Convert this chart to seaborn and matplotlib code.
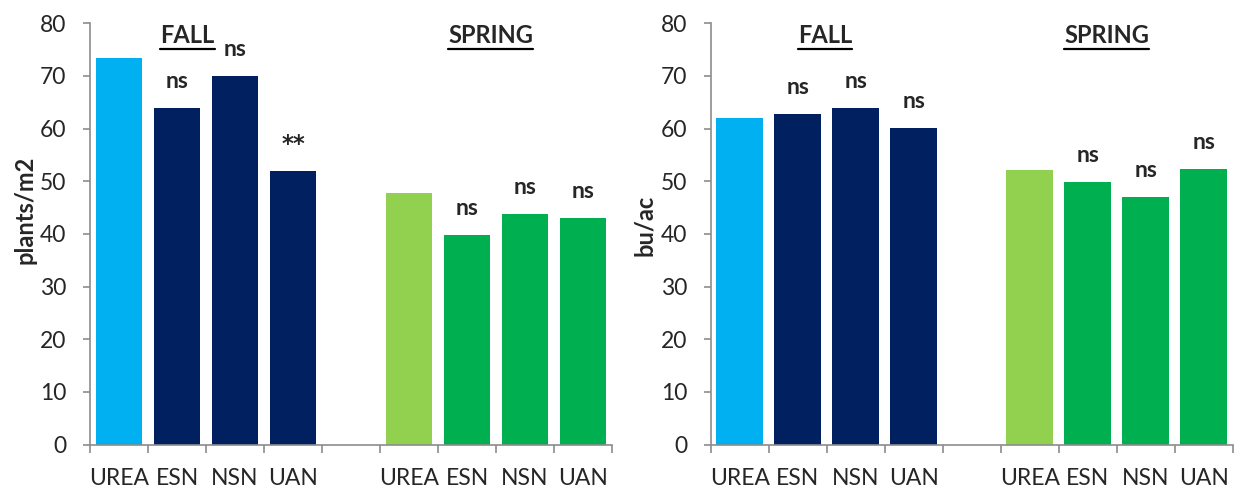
import matplotlib
matplotlib.use("Agg")
import matplotlib.pyplot as plt
from matplotlib.lines import Line2D
from matplotlib.ticker import FixedLocator
import seaborn as sns
import pandas as pd

# Treatments per timing
products = ["UREA", "ESN", "NSN", "UAN"]

# Plant stand (plants/m2)
stand_fall = [73.4, 64.0, 70.0, 52.0]
stand_spring = [47.8, 39.8, 43.8, 43.0]
stand_sig_fall = ["", "ns", "ns", "**"]
stand_sig_spring = ["", "ns", "ns", "ns"]

# Grain yield (bu/ac)
yield_fall = [62.0, 62.8, 63.9, 60.2]
yield_spring = [52.1, 49.9, 47.0, 52.3]
yield_sig_fall = ["", "ns", "ns", "ns"]
yield_sig_spring = ["", "ns", "ns", "ns"]

group_titles = ["FALL", "SPRING"]
y_labels = ["plants/m2", "bu/ac"]
y_ticks = [0, 10, 20, 30, 40, 50, 60, 70, 80]

colors_fall = ["#00B0F0", "#002060", "#002060", "#002060"]
colors_spring = ["#92D050", "#00B050", "#00B050", "#00B050"]

sns.set_theme(style="white")
plt.rcParams["font.family"] = ["Lato", "DejaVu Sans"]
plt.rcParams["font.size"] = 16

fall_keys = [f"F_{p}" for p in products]
spring_keys = [f"S_{p}" for p in products]
order = fall_keys + ["gap"] + spring_keys
tick_text = products + [""] + products
palette = dict(zip(fall_keys + spring_keys, colors_fall + colors_spring))

W, H = 1238, 491
fig = plt.figure(figsize=(W / 100, H / 100), dpi=100)
axw, axh = 522 / W, 421.3 / H
axb = (H - 444.6) / H
ax_left = fig.add_axes([90 / W, axb, axw, axh])
ax_right = fig.add_axes([710.7 / W, axb, axw, axh])

panels = [
    (ax_left, stand_fall, stand_spring, stand_sig_fall, stand_sig_spring,
     y_labels[0], (1.18, 6.41), (25, 210)),
    (ax_right, yield_fall, yield_spring, yield_sig_fall, yield_sig_spring,
     y_labels[1], (1.47, 6.33), (644, 225)),
]

spine_color = "#8C8C8C"
headers = []
for ax, fall, spring, sig_f, sig_s, ylab, title_x, ylab_xy in panels:
    df = pd.DataFrame({"slot": fall_keys + spring_keys, "value": fall + spring})
    sns.barplot(data=df, x="slot", y="value", hue="slot", order=order,
                hue_order=fall_keys + spring_keys, palette=palette,
                width=0.81, saturation=1, linewidth=0, legend=False, ax=ax)

    ax.set_xlim(-0.5, len(order) - 0.5)
    ax.set_ylim(0, 80)
    ax.set_yticks(y_ticks)
    ax.set_xticks(range(len(order)))
    ax.set_xticklabels(tick_text)
    ax.xaxis.set_minor_locator(FixedLocator([i - 0.5 for i in range(len(order) + 1)]))
    ax.set_xlabel("")
    ax.set_ylabel("")

    for s in ["top", "right"]:
        ax.spines[s].set_visible(False)
    for s in ["left", "bottom"]:
        ax.spines[s].set_color(spine_color)
        ax.spines[s].set_linewidth(1.2)

    ax.tick_params(axis="y", which="major", direction="out", length=5, width=1.2,
                   color=spine_color, pad=12, labelsize=16.5, left=True)
    ax.tick_params(axis="x", which="major", length=0, pad=17, labelsize=16.5)
    ax.tick_params(axis="x", which="minor", direction="out", length=6, width=1.2,
                   color=spine_color, bottom=True)

    # significance marks above bars
    positions = list(range(4)) + list(range(5, 9))
    for xi, v, s in zip(positions, fall + spring, sig_f + sig_s):
        if s:
            fam = ["DejaVu Sans"] if s == "**" else ["Lato", "DejaVu Sans"]
            ax.annotate(s, xy=(xi, v), xytext=(0, 14.4), textcoords="offset points",
                        ha="center", va="baseline", fontsize=16.5,
                        fontweight="bold", family=fam)

    for tx, title in zip(title_x, group_titles):
        t = ax.text(tx, 76.2, title, ha="center", va="baseline",
                    fontsize=17, fontweight="bold")
        headers.append((ax, t, tx))

    fig.text(ylab_xy[0] / W, 1 - ylab_xy[1] / H, ylab, rotation=90,
             ha="center", va="center", fontsize=17, fontweight="bold")

# underline the timing headers
fig.canvas.draw()
renderer = fig.canvas.get_renderer()
for ax, t, tx in headers:
    bb = t.get_window_extent(renderer)
    _, base = ax.transData.transform((tx, 76.2))
    yline = base - 6
    fig.add_artist(Line2D([bb.x0 / W, bb.x1 / W], [yline / H, yline / H],
                          transform=fig.transFigure, color="black", linewidth=1.6))

fig.savefig("out.png", dpi=100)
